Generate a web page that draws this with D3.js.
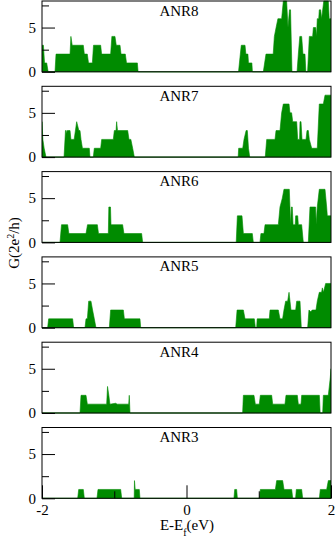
<!DOCTYPE html>
<html><head><meta charset="utf-8">
<script src="https://cdn.jsdelivr.net/npm/d3@7"></script>
<style>
html,body{margin:0;padding:0;background:#fff;}
svg{display:block;}
text{font-family:"Liberation Serif","Times New Roman",serif;fill:#000;}
</style></head>
<body>
<svg id="chart" width="336" height="541"></svg>
<script>
// ---- data: [energy (eV), conductance G (2e^2/h)] ----
const panelNames = ["ANR8","ANR7","ANR6","ANR5","ANR4","ANR3"];
const xTicksMajor = [-2,0,2];
const xTicksMinor = [-1,1];
const yTicksMajor = [0,5];
const yTicksMinor = [2.5,7.5];

const ANR8 = [[-2,3],[-1.98,3],[-1.965,1],[-1.935,1],[-1.915,0],
 [-1.82,0],[-1.806,2],[-1.612,2],[-1.6,4],[-1.582,3],[-1.428,3],[-1.414,2],[-1.373,2],[-1.356,1],[-1.303,1],[-1.287,3],[-1.188,3],[-1.175,2],[-1.05,2],[-1.033,4],[-0.99,4],[-0.972,3],[-0.92,3],[-0.906,2],[-0.847,2],[-0.83,1],[-0.68,1],[-0.67,0],
 [0.72,0],[0.745,2],[0.758,3],[0.81,3],[0.822,2],[0.85,2],[0.858,1],[0.905,1],[0.912,0],
 [1.063,0],[1.1,2],[1.2,2],[1.216,4],[1.24,5],[1.265,6],[1.317,6],[1.34,8],[1.386,8],[1.405,5],[1.425,7],[1.44,7],[1.46,0],
 [1.53,0],[1.548,2],[1.568,4],[1.594,4],[1.612,2],[1.64,2],[1.652,0],
 [1.676,0],[1.70,4],[1.746,4],[1.756,5],[1.788,5],[1.8,4],[1.81,6],[1.83,6],[1.838,7],[1.857,7],[1.87,6],[1.9,8],[1.963,8],[1.975,6],[2,6]];

const ANR7 = [[-2,4],[-1.988,2],[-1.97,1],[-1.945,0],
 [-1.695,0],[-1.675,3],[-1.665,3],[-1.66,2.6],[-1.65,3],[-1.612,3],[-1.60,2],[-1.555,2],[-1.52,4],[-1.49,3],[-1.474,3],[-1.46,2],[-1.44,1],[-1.345,1],[-1.336,0],
 [-1.29,0],[-1.276,1],[-1.188,1],[-1.174,2],[-1.013,2],[-0.999,3],[-0.975,3],[-0.967,4],[-0.955,3],[-0.814,3],[-0.796,2],[-0.77,2],[-0.745,1],[-0.722,0],
 [0.715,0],[0.722,1],[0.778,1],[0.796,2],[0.825,3],[0.842,3],[0.858,1],[0.875,0],
 [1.09,0],[1.11,2],[1.225,2],[1.239,3],[1.294,3],[1.317,5],[1.34,6],[1.419,6],[1.432,5],[1.455,5],[1.47,4],[1.525,4],[1.539,2],[1.565,2],[1.571,4],[1.585,4],[1.599,2],[1.654,2],[1.668,3],[1.686,3],[1.70,2],[1.733,1],[1.81,1],[1.838,6],[1.894,6],[1.917,7],[2,7]];

const ANR6 = [[-2,0],[-1.751,0],[-1.73,2],[-1.645,2],[-1.628,1],[-1.391,1],[-1.37,2],[-1.234,2],[-1.218,1],[-1.082,1],[-1.075,4],[-1.052,4],[-1.045,2],[-0.884,2],[-0.866,1],[-0.621,1],[-0.607,0],
 [0.688,0],[0.704,3],[0.768,3],[0.787,1],[0.911,1],[0.925,0],
 [1.017,0],[1.03,1],[1.072,1],[1.087,2],[1.271,2],[1.294,4],[1.326,5],[1.349,6],[1.423,6],[1.441,2],[1.452,4],[1.464,4],[1.475,2],[1.505,2],[1.511,3],[1.539,3],[1.548,2],[1.594,2],[1.617,0],
 [1.686,0],[1.709,4],[1.787,4],[1.795,2],[1.81,4],[1.838,6],[1.917,6],[1.94,4],[1.949,3],[2,3]];

const ANR5 = [[-2,0],[-1.922,0],[-1.908,1],[-1.576,1],[-1.562,0],
 [-1.405,0],[-1.391,1],[-1.372,1],[-1.354,3],[-1.322,3],[-1.30,2],[-1.276,1],[-1.253,0],
 [-1.068,0],[-1.05,2],[-0.874,2],[-0.86,1],[-0.644,1],[-0.634,0],
 [0.681,0],[0.70,2],[0.787,2],[0.81,1],[0.939,1],[0.953,0],
 [0.971,0],[0.978,1],[1.146,1],[1.156,2],[1.271,2],[1.294,1],[1.33,1],[1.349,2],[1.372,3],[1.40,3],[1.419,4],[1.446,2],[1.511,2],[1.525,3],[1.571,3],[1.589,0],
 [1.677,0],[1.695,2],[1.72,1.8],[1.74,2],[1.792,2],[1.81,3],[1.838,4],[1.87,4],[1.88,4.5],[1.895,4],[1.926,5],[2,5]];

const ANR4 = [[-2,0],[-1.474,0],[-1.46,2],[-1.391,2],[-1.372,1],[-1.105,1],[-1.093,3],[-1.075,2],[-1.06,1],[-0.98,1.1],[-0.96,1],[-0.80,1],[-0.792,2],[-0.782,0],
 [0.777,0],[0.787,2],[0.934,2],[0.953,1],[1.008,1],[1.022,2],[1.179,2],[1.193,1],[1.363,1],[1.377,2],[1.534,2],[1.548,1],[1.585,1],[1.594,2],[1.839,2],[1.85,0],[1.885,0],[1.894,2],[1.963,2],[1.99,4],[2,5]];

const ANR3 = [[-2,0],[-1.506,0],[-1.492,1],[-1.428,1],[-1.414,0],
 [-1.239,0],[-1.225,1],[-0.911,1],[-0.897,0],
 [-0.724,0],[-0.72,2],[-0.71,1],[-0.653,1],[-0.644,0],
 [0.657,0],[0.667,1],[0.694,1],[0.704,0],
 [1.008,0],[1.022,1],[1.23,1],[1.248,2],[1.331,2],[1.35,1],[1.456,1],[1.47,0],
 [1.51,0],[1.52,1],[1.594,1],[1.608,0],
 [1.839,0],[1.852,1],[1.94,1],[1.963,2],[2,2]];

const series = [ANR8, ANR7, ANR6, ANR5, ANR4, ANR3];

// ---- layout ----
const svg = d3.select("#chart");
const plotL = 42, plotR = 331;
const top0 = 1, panelStep = 85.3, panelH = 70.8;
const green = "#008b00";
const x = d3.scaleLinear().domain([-2,2]).range([plotL, plotR]);

svg.append("defs").append("clipPath").attr("id","clipAll")
  .append("rect").attr("x",plotL).attr("y",0).attr("width",plotR-plotL).attr("height",541);

panelNames.forEach((name, i) => {
  const top = top0 + i*panelStep;
  const y = d3.scaleLinear().domain([0,8]).range([top+panelH, top]);
  const g = svg.append("g");

  const area = d3.area().x(d=>x(d[0])).y0(y(0)).y1(d=>y(d[1]));
  g.append("path").datum(series[i])
    .attr("d", area).attr("fill", green).attr("stroke", green).attr("stroke-width",0.6)
    .attr("clip-path","url(#clipAll)");

  // y ticks (inward)
  const yMaj = d3.axisLeft(y).tickValues(yTicksMajor).tickSize(-13).tickPadding(6).tickFormat(d3.format("d"));
  const yMin = d3.axisLeft(y).tickValues(yTicksMinor).tickSize(-7).tickFormat("");
  const ga = g.append("g").attr("transform",`translate(${plotL},0)`).call(yMaj);
  const gm = g.append("g").attr("transform",`translate(${plotL},0)`).call(yMin);
  [ga,gm].forEach(s=>{ s.select(".domain").remove(); s.selectAll("line").attr("stroke","#000"); });
  ga.selectAll("text").attr("font-size",15).attr("font-family","Liberation Serif").attr("fill","#000");

  if (i === panelNames.length-1) {
    const xMaj = d3.axisBottom(x).tickValues(xTicksMajor).tickSize(-13).tickPadding(6).tickFormat(d=>String(d));
    const xMin = d3.axisBottom(x).tickValues(xTicksMinor).tickSize(-7).tickFormat("");
    const xa = g.append("g").attr("transform",`translate(0,${top+panelH})`).call(xMaj);
    const xm = g.append("g").attr("transform",`translate(0,${top+panelH})`).call(xMin);
    [xa,xm].forEach(s=>{ s.select(".domain").remove(); s.selectAll("line").attr("stroke","#000"); });
    xa.selectAll("text").attr("font-size",15).attr("font-family","Liberation Serif").attr("fill","#000");
  }

  // frame
  g.append("rect").attr("x",plotL).attr("y",top).attr("width",plotR-plotL).attr("height",panelH)
    .attr("fill","none").attr("stroke","#000").attr("stroke-width",1);

  // panel title
  g.append("text").attr("x",179).attr("y",top+14.5).attr("text-anchor","middle")
    .attr("font-size",15).text(name);
});

// y-axis label
const yl = svg.append("text").attr("transform","translate(19,243) rotate(-90)")
  .attr("text-anchor","middle").attr("font-size",15);
yl.append("tspan").text("G(2e");
yl.append("tspan").attr("baseline-shift","super").attr("font-size",10).text("2");
yl.append("tspan").text("/h)");

// x-axis label
const xl = svg.append("text").attr("x",187).attr("y",530).attr("text-anchor","middle").attr("font-size",15);
xl.append("tspan").text("E-E");
xl.append("tspan").attr("baseline-shift","sub").attr("font-size",10).text("f");
xl.append("tspan").text("(eV)");
</script>
</body></html>
